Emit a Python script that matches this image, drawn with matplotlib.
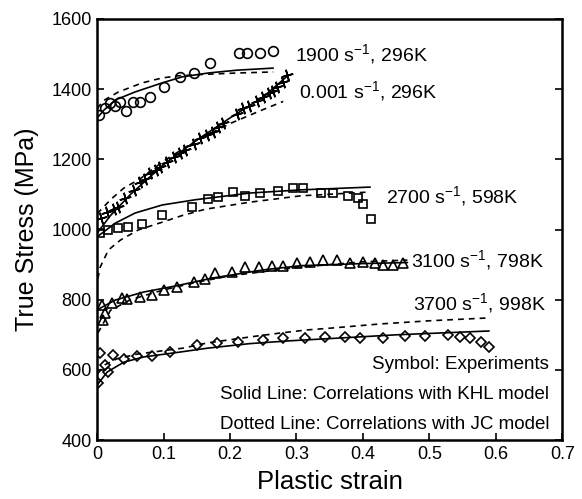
import numpy as np
import matplotlib
matplotlib.use("Agg")
import matplotlib.pyplot as plt

plt.rcParams["font.family"] = ["Liberation Sans", "DejaVu Sans"]
plt.rcParams["mathtext.default"] = "regular"

# --- experiments (symbols) ---
x_1900 = [0.003, 0.011, 0.020, 0.027, 0.035, 0.044, 0.054, 0.065, 0.080, 0.101,
          0.125, 0.145, 0.170, 0.214, 0.226, 0.245, 0.264]
y_1900 = [1326, 1346, 1361, 1352, 1363, 1338, 1363, 1363, 1378, 1406,
          1435, 1446, 1475, 1503, 1503, 1503, 1509]

x_0001 = [0.005, 0.015, 0.025, 0.032, 0.042, 0.055, 0.065, 0.072, 0.080, 0.088,
          0.095, 0.105, 0.115, 0.125, 0.132, 0.145, 0.155, 0.165, 0.174, 0.182,
          0.190, 0.210, 0.220, 0.228, 0.240, 0.250, 0.258, 0.265, 0.271, 0.280, 0.286]
y_0001 = [1033, 1050, 1058, 1064, 1090, 1112, 1136, 1145, 1161, 1170,
          1178, 1192, 1207, 1218, 1227, 1245, 1261, 1270, 1278, 1292,
          1304, 1330, 1346, 1352, 1365, 1378, 1388, 1396, 1406, 1420, 1440]

x_2700 = [0.0045, 0.017, 0.032, 0.047, 0.068, 0.098, 0.143, 0.167, 0.182, 0.205,
          0.223, 0.245, 0.272, 0.295, 0.310, 0.337, 0.355, 0.378, 0.393, 0.400, 0.412]
y_2700 = [990, 999, 1004, 1007, 1016, 1041, 1064, 1087, 1093, 1107,
          1096, 1104, 1110, 1118, 1118, 1104, 1104, 1096, 1090, 1073, 1030]

x_3100 = [0.0075, 0.009, 0.012, 0.023, 0.038, 0.045, 0.065, 0.083, 0.100, 0.120,
          0.145, 0.163, 0.178, 0.203, 0.223, 0.243, 0.263, 0.280, 0.301, 0.320,
          0.340, 0.361, 0.380, 0.400, 0.418, 0.430, 0.446, 0.461]
y_3100 = [785, 742, 762, 790, 805, 802, 808, 813, 828, 836,
          850, 858, 876, 879, 893, 893, 896, 896, 905, 907,
          913, 913, 905, 908, 906, 899, 899, 905]

x_3700 = [0.0015, 0.0045, 0.012, 0.017, 0.024, 0.040, 0.060, 0.083, 0.110, 0.150,
          0.180, 0.212, 0.250, 0.280, 0.313, 0.343, 0.373, 0.396, 0.430, 0.464,
          0.494, 0.528, 0.546, 0.561, 0.577, 0.590]
y_3700 = [563, 648, 614, 594, 642, 631, 640, 640, 651, 671,
          677, 680, 685, 691, 691, 694, 694, 691, 691, 697,
          697, 700, 694, 691, 680, 665]

# --- KHL model (solid lines) ---
khl_1900_x = [0, 0.01, 0.027, 0.057, 0.098, 0.128, 0.167, 0.21, 0.265]
khl_1900_y = [1318, 1340, 1369, 1392, 1418, 1435, 1446, 1454, 1460]
khl_0001_x = [0, 0.02, 0.05, 0.1, 0.15, 0.2, 0.25, 0.286]
khl_0001_y = [990, 1040, 1100, 1185, 1255, 1318, 1378, 1437]
khl_2700_x = [0, 0.0075, 0.027, 0.057, 0.098, 0.148, 0.23, 0.306, 0.411]
khl_2700_y = [980, 990, 1018, 1047, 1070, 1085, 1104, 1113, 1121]
khl_3100_x = [0, 0.0075, 0.027, 0.07, 0.12, 0.174, 0.25, 0.306, 0.4, 0.467]
khl_3100_y = [771, 779, 799, 822, 840, 862, 885, 897, 903, 906]
khl_3700_x = [0, 0.015, 0.04, 0.07, 0.125, 0.166, 0.23, 0.29, 0.366, 0.45, 0.59]
khl_3700_y = [557, 594, 622, 637, 651, 662, 675, 683, 691, 700, 711]

# --- JC model (dotted lines) ---
jc_1900_x = [0, 0.01, 0.032, 0.068, 0.098, 0.122, 0.16, 0.21, 0.265]
jc_1900_y = [1345, 1368, 1392, 1418, 1432, 1438, 1442, 1446, 1449]
jc_0001_x = [0, 0.02, 0.04, 0.065, 0.1, 0.15, 0.2, 0.25, 0.28]
jc_0001_y = [1045, 1085, 1118, 1145, 1195, 1255, 1302, 1342, 1365]
jc_2700_x = [0.001, 0.0045, 0.017, 0.035, 0.062, 0.098, 0.128, 0.163, 0.23, 0.306, 0.411]
jc_2700_y = [860, 893, 942, 970, 999, 1021, 1040, 1058, 1078, 1096, 1107]
jc_3100_x = [0.001, 0.02, 0.05, 0.1, 0.15, 0.2, 0.3, 0.4, 0.467]
jc_3100_y = [705, 770, 800, 828, 850, 868, 892, 908, 913]
jc_3700_x = [0.001, 0.012, 0.03, 0.06, 0.1, 0.129, 0.166, 0.196, 0.23, 0.275,
             0.316, 0.351, 0.426, 0.5, 0.587]
jc_3700_y = [590, 615, 632, 645, 655, 662, 677, 685, 694, 705,
             714, 719, 731, 740, 748]

labels = [
    ("1900 s$^{-1}$, 296K", 0.298, 1480),
    ("0.001 s$^{-1}$, 296K", 0.304, 1375),
    ("2700 s$^{-1}$, 598K", 0.434, 1076),
    ("3100 s$^{-1}$, 798K", 0.473, 893),
    ("3700 s$^{-1}$, 998K", 0.476, 771),
]
notes = [
    "Symbol: Experiments",
    "Solid Line: Correlations with KHL model",
    "Dotted Line: Correlations with JC model",
]

fig = plt.figure(figsize=(5.82, 4.99), dpi=100)
ax = fig.add_axes([0.167, 0.118, 0.799, 0.844])

mk = dict(linestyle="none", markerfacecolor="none", markeredgecolor="black",
          markeredgewidth=1.2)
ax.plot(x_1900, y_1900, marker="o", markersize=7, **mk)
ax.plot(x_0001, y_0001, marker=(4, 2, 15), markersize=8.5, **mk)
ax.plot(x_2700, y_2700, marker="s", markersize=6, **mk)
ax.plot(x_3100, y_3100, marker="^", markersize=6.5, **mk)
ax.plot(x_3700, y_3700, marker="D", markersize=4.8, **mk)

for xs, ys in [(khl_1900_x, khl_1900_y), (khl_0001_x, khl_0001_y),
               (khl_2700_x, khl_2700_y), (khl_3100_x, khl_3100_y),
               (khl_3700_x, khl_3700_y)]:
    ax.plot(xs, ys, color="black", lw=1.2, solid_capstyle="round")

for xs, ys in [(jc_1900_x, jc_1900_y), (jc_0001_x, jc_0001_y),
               (jc_2700_x, jc_2700_y), (jc_3100_x, jc_3100_y),
               (jc_3700_x, jc_3700_y)]:
    ax.plot(xs, ys, color="black", lw=1.2, dashes=(3.5, 3))

for txt, tx, ty in labels:
    ax.text(tx, ty, txt, fontsize=14, ha="left", va="baseline")

for i, txt in enumerate(notes):
    ax.text(0.972, 0.169 - i * 0.0715, txt, transform=ax.transAxes,
            fontsize=13.5, ha="right", va="baseline")

ax.set_xlim(0, 0.7)
ax.set_ylim(400, 1600)
ax.set_xticks([0, 0.1, 0.2, 0.3, 0.4, 0.5, 0.6, 0.7])
ax.set_xticklabels(["0", "0.1", "0.2", "0.3", "0.4", "0.5", "0.6", "0.7"])
ax.set_yticks(np.arange(400, 1601, 200))
ax.tick_params(direction="in", length=5, width=1.2, labelsize=13, right=True,
               pad=4)
for s in ax.spines.values():
    s.set_linewidth(1.8)

ax.set_xlabel("Plastic strain", fontsize=18.5, labelpad=5)
ax.set_ylabel("True Stress (MPa)", fontsize=18, labelpad=9)

fig.savefig("out.png", dpi=100)
